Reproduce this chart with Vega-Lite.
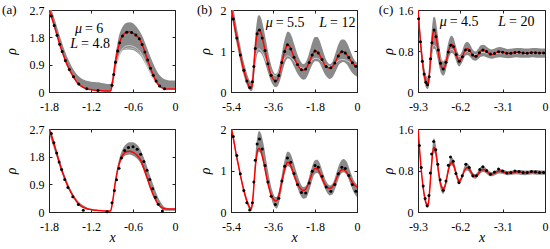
{
"$schema": "https://vega.github.io/schema/vega-lite/v6.json",
"padding": {"left": 1, "top": 3, "right": 0, "bottom": 0},
"config": {
 "view": {"stroke": "#222", "strokeWidth": 1},
 "font": "Liberation Serif",
 "axis": {"domain": false, "grid": false, "ticks": true, "tickSize": -3, "tickColor": "#222", "tickWidth": 1, "labelFont": "Liberation Serif", "labelFontSize": 12, "labelColor": "#000", "labelPadding": 8, "titleFont": "Liberation Serif", "titleFontSize": 14, "titleFontStyle": "italic", "titleFontWeight": "normal", "titleColor": "#000", "labelFlush": false, "labelOverlap": false, "zindex": 1},
 "axisX": {"labelPadding": 12},
 "text": {"font": "Liberation Serif", "color": "#000"}
},
"datasets": {
 "A": [
  {"x":-1.80,"r":2.72,"h1":2.90,"l1":2.60,"h2":2.80,"l2":2.55},
  {"x":-1.76,"r":2.45,"h1":2.68,"l1":2.36,"h2":2.55,"l2":2.28},
  {"x":-1.72,"r":2.15,"h1":2.40,"l1":2.06,"h2":2.26,"l2":2.00},
  {"x":-1.68,"r":1.83,"h1":2.10,"l1":1.75,"h2":1.94,"l2":1.70},
  {"x":-1.64,"r":1.52,"h1":1.80,"l1":1.45,"h2":1.63,"l2":1.41},
  {"x":-1.60,"r":1.25,"h1":1.52,"l1":1.19,"h2":1.35,"l2":1.16},
  {"x":-1.56,"r":1.00,"h1":1.27,"l1":0.95,"h2":1.10,"l2":0.93},
  {"x":-1.52,"r":0.79,"h1":1.05,"l1":0.75,"h2":0.88,"l2":0.73},
  {"x":-1.48,"r":0.61,"h1":0.86,"l1":0.57,"h2":0.69,"l2":0.56},
  {"x":-1.44,"r":0.46,"h1":0.70,"l1":0.43,"h2":0.53,"l2":0.42},
  {"x":-1.40,"r":0.32,"h1":0.58,"l1":0.30,"h2":0.40,"l2":0.29},
  {"x":-1.35,"r":0.21,"h1":0.47,"l1":0.19,"h2":0.28,"l2":0.19},
  {"x":-1.30,"r":0.14,"h1":0.40,"l1":0.12,"h2":0.20,"l2":0.12},
  {"x":-1.25,"r":0.10,"h1":0.36,"l1":0.08,"h2":0.14,"l2":0.08},
  {"x":-1.20,"r":0.08,"h1":0.34,"l1":0.06,"h2":0.10,"l2":0.06},
  {"x":-1.15,"r":0.06,"h1":0.33,"l1":0.04,"h2":0.08,"l2":0.045},
  {"x":-1.10,"r":0.05,"h1":0.32,"l1":0.03,"h2":0.06,"l2":0.035},
  {"x":-1.05,"r":0.04,"h1":0.30,"l1":0.025,"h2":0.05,"l2":0.03},
  {"x":-1.00,"r":0.035,"h1":0.28,"l1":0.02,"h2":0.045,"l2":0.025},
  {"x":-0.95,"r":0.03,"h1":0.26,"l1":0.02,"h2":0.04,"l2":0.02},
  {"x":-0.92,"r":0.035,"h1":0.26,"l1":0.02,"t1":0.03,"t2":0.03,"h2":0.05,"l2":0.02},
  {"x":-0.90,"r":0.22,"h1":0.40,"l1":0.12,"t1":0.17,"t2":0.16,"h2":0.30,"l2":0.18},
  {"x":-0.88,"r":0.50,"h1":0.72,"l1":0.35,"t1":0.40,"t2":0.38,"h2":0.60,"l2":0.44},
  {"x":-0.86,"r":0.85,"h1":1.08,"l1":0.62,"t1":0.66,"t2":0.63,"h2":0.95,"l2":0.78},
  {"x":-0.83,"r":1.25,"h1":1.50,"l1":0.95,"t1":0.96,"t2":0.91,"h2":1.38,"l2":1.16},
  {"x":-0.80,"r":1.55,"h1":1.85,"l1":1.18,"t1":1.20,"t2":1.14,"h2":1.70,"l2":1.45},
  {"x":-0.77,"r":1.76,"h1":2.05,"l1":1.32,"t1":1.36,"t2":1.29,"h2":1.93,"l2":1.65},
  {"x":-0.74,"r":1.88,"h1":2.18,"l1":1.38,"t1":1.45,"t2":1.38,"h2":2.08,"l2":1.77},
  {"x":-0.70,"r":1.96,"h1":2.27,"l1":1.40,"t1":1.51,"t2":1.43,"h2":2.20,"l2":1.85},
  {"x":-0.65,"r":1.98,"h1":2.30,"l1":1.40,"t1":1.53,"t2":1.45,"h2":2.27,"l2":1.87},
  {"x":-0.60,"r":1.94,"h1":2.26,"l1":1.38,"t1":1.50,"t2":1.43,"h2":2.27,"l2":1.83},
  {"x":-0.55,"r":1.86,"h1":2.15,"l1":1.32,"t1":1.44,"t2":1.37,"h2":2.20,"l2":1.75},
  {"x":-0.50,"r":1.72,"h1":1.98,"l1":1.22,"t1":1.33,"t2":1.26,"h2":2.06,"l2":1.62},
  {"x":-0.45,"r":1.45,"h1":1.75,"l1":1.04,"t1":1.13,"t2":1.07,"h2":1.80,"l2":1.37},
  {"x":-0.40,"r":1.12,"h1":1.45,"l1":0.82,"t1":0.88,"t2":0.84,"h2":1.48,"l2":1.06},
  {"x":-0.35,"r":0.78,"h1":1.15,"l1":0.60,"t1":0.62,"t2":0.59,"h2":1.14,"l2":0.74},
  {"x":-0.30,"r":0.50,"h1":0.88,"l1":0.40,"t1":0.40,"t2":0.38,"h2":0.82,"l2":0.47},
  {"x":-0.25,"r":0.28,"h1":0.65,"l1":0.25,"t1":0.24,"t2":0.23,"h2":0.52,"l2":0.26},
  {"x":-0.20,"r":0.16,"h1":0.50,"l1":0.14,"t1":0.14,"t2":0.13,"h2":0.30,"l2":0.12},
  {"x":-0.15,"r":0.11,"h1":0.42,"l1":0.09,"t1":0.10,"t2":0.095,"h2":0.16,"l2":0.05},
  {"x":-0.10,"r":0.10,"h1":0.39,"l1":0.08,"t1":0.09,"t2":0.085,"h2":0.12,"l2":0.04},
  {"x":-0.05,"r":0.10,"h1":0.38,"l1":0.08,"t1":0.09,"t2":0.085,"h2":0.11,"l2":0.04},
  {"x":0.00,"r":0.10,"h1":0.38,"l1":0.08,"t1":0.09,"t2":0.085,"h2":0.11,"l2":0.04}
 ],
 "Ad1": [
  {"x":-1.767,"y":2.50},{"x":-1.725,"y":2.19},{"x":-1.685,"y":1.87},{"x":-1.647,"y":1.57},{"x":-1.612,"y":1.33},{"x":-1.566,"y":1.04},{"x":-1.51,"y":0.74},{"x":-1.45,"y":0.50},{"x":-1.375,"y":0.26},{"x":-1.26,"y":0.11},{"x":-1.10,"y":0.05},{"x":-0.90,"y":0.22},{"x":-0.875,"y":0.58},{"x":-0.85,"y":0.98},{"x":-0.82,"y":1.35},{"x":-0.79,"y":1.62},{"x":-0.75,"y":1.84},{"x":-0.69,"y":1.97},{"x":-0.62,"y":1.96},{"x":-0.56,"y":1.88},{"x":-0.51,"y":1.75},{"x":-0.47,"y":1.56},{"x":-0.43,"y":1.32},{"x":-0.39,"y":1.05},{"x":-0.35,"y":0.78},{"x":-0.31,"y":0.55},{"x":-0.27,"y":0.36},{"x":-0.22,"y":0.20},{"x":-0.15,"y":0.11}
 ],
 "Ad2": [
  {"x":-1.767,"y":2.55},{"x":-1.73,"y":2.25},{"x":-1.69,"y":1.92},{"x":-1.655,"y":1.63},{"x":-1.62,"y":1.38},{"x":-1.575,"y":1.06},{"x":-1.53,"y":0.80},{"x":-1.46,"y":0.50},{"x":-1.38,"y":0.24},{"x":-1.31,"y":0.06},{"x":-0.97,"y":0.01},{"x":-0.90,"y":0.30},{"x":-0.865,"y":0.70},{"x":-0.835,"y":1.05},{"x":-0.80,"y":1.42},{"x":-0.765,"y":1.76},{"x":-0.72,"y":2.00},{"x":-0.665,"y":2.10},{"x":-0.60,"y":2.12},{"x":-0.54,"y":2.04},{"x":-0.49,"y":1.88},{"x":-0.445,"y":1.64},{"x":-0.40,"y":1.36},{"x":-0.36,"y":1.06},{"x":-0.32,"y":0.76},{"x":-0.28,"y":0.48},{"x":-0.24,"y":0.25},{"x":-0.18,"y":0.03}
 ],
 "B": [
  {"x":-5.40,"r":2.05,"h1":2.30,"l1":1.90,"r2":2.05,"h2":2.15,"l2":1.98},
  {"x":-5.30,"r":1.78,"h1":2.05,"l1":1.62,"r2":1.78,"h2":1.85,"l2":1.70},
  {"x":-5.20,"r":1.46,"h1":1.72,"l1":1.30,"r2":1.46,"h2":1.52,"l2":1.38},
  {"x":-5.10,"r":1.18,"h1":1.42,"l1":1.02,"r2":1.18,"h2":1.22,"l2":1.10},
  {"x":-5.00,"r":0.90,"h1":1.12,"l1":0.75,"r2":0.90,"h2":0.94,"l2":0.82},
  {"x":-4.90,"r":0.64,"h1":0.85,"l1":0.50,"r2":0.64,"h2":0.68,"l2":0.56},
  {"x":-4.80,"r":0.42,"h1":0.62,"l1":0.30,"r2":0.42,"h2":0.45,"l2":0.34},
  {"x":-4.70,"r":0.24,"h1":0.42,"l1":0.14,"r2":0.24,"h2":0.26,"l2":0.16},
  {"x":-4.60,"r":0.11,"h1":0.28,"l1":0.04,"r2":0.11,"h2":0.12,"l2":0.04},
  {"x":-4.55,"r":0.08,"h1":0.25,"l1":0.02,"r2":0.08,"h2":0.10,"l2":0.02},
  {"x":-4.50,"r":0.15,"h1":0.35,"l1":0.03,"t1":0.25,"r2":0.15,"h2":0.20,"l2":0.05},
  {"x":-4.45,"r":0.40,"h1":0.65,"l1":0.15,"t1":0.45,"r2":0.40,"h2":0.52,"l2":0.30},
  {"x":-4.40,"r":0.78,"h1":1.05,"l1":0.45,"t1":0.70,"r2":0.78,"h2":0.98,"l2":0.70},
  {"x":-4.35,"r":1.12,"h1":1.42,"l1":0.70,"t1":0.88,"r2":1.12,"h2":1.40,"l2":1.03},
  {"x":-4.30,"r":1.36,"h1":1.68,"l1":0.86,"t1":0.98,"r2":1.37,"h2":1.70,"l2":1.27},
  {"x":-4.25,"r":1.49,"h1":1.84,"l1":0.95,"t1":1.04,"r2":1.50,"h2":1.88,"l2":1.40},
  {"x":-4.20,"r":1.52,"h1":1.88,"l1":0.98,"t1":1.05,"r2":1.53,"h2":1.95,"l2":1.45},
  {"x":-4.12,"r":1.45,"h1":1.82,"l1":0.95,"t1":1.02,"r2":1.47,"h2":1.90,"l2":1.40},
  {"x":-4.00,"r":1.18,"h1":1.55,"l1":0.82,"t1":0.90,"r2":1.20,"h2":1.62,"l2":1.14},
  {"x":-3.90,"r":0.90,"h1":1.25,"l1":0.64,"t1":0.76,"r2":0.91,"h2":1.28,"l2":0.86},
  {"x":-3.80,"r":0.64,"h1":0.95,"l1":0.45,"t1":0.62,"r2":0.64,"h2":0.95,"l2":0.60},
  {"x":-3.70,"r":0.44,"h1":0.70,"l1":0.28,"t1":0.50,"r2":0.44,"h2":0.66,"l2":0.38},
  {"x":-3.60,"r":0.32,"h1":0.52,"l1":0.17,"t1":0.43,"r2":0.32,"h2":0.46,"l2":0.20},
  {"x":-3.50,"r":0.27,"h1":0.44,"l1":0.12,"t1":0.40,"r2":0.27,"h2":0.36,"l2":0.10},
  {"x":-3.45,"r":0.27,"h1":0.45,"l1":0.12,"t1":0.41,"r2":0.27,"h2":0.36,"l2":0.08},
  {"x":-3.35,"r":0.40,"h1":0.58,"l1":0.20,"t1":0.50,"r2":0.40,"h2":0.50,"l2":0.20},
  {"x":-3.25,"r":0.64,"h1":0.85,"l1":0.38,"t1":0.64,"r2":0.65,"h2":0.80,"l2":0.48},
  {"x":-3.15,"r":0.89,"h1":1.16,"l1":0.60,"t1":0.78,"r2":0.92,"h2":1.12,"l2":0.78},
  {"x":-3.05,"r":1.08,"h1":1.38,"l1":0.76,"t1":0.86,"r2":1.12,"h2":1.36,"l2":1.02},
  {"x":-2.98,"r":1.15,"h1":1.47,"l1":0.82,"t1":0.88,"r2":1.20,"h2":1.45,"l2":1.10},
  {"x":-2.90,"r":1.12,"h1":1.46,"l1":0.81,"t1":0.87,"r2":1.18,"h2":1.44,"l2":1.09},
  {"x":-2.80,"r":1.00,"h1":1.36,"l1":0.74,"t1":0.82,"r2":1.06,"h2":1.34,"l2":0.98},
  {"x":-2.70,"r":0.85,"h1":1.18,"l1":0.62,"t1":0.75,"r2":0.89,"h2":1.16,"l2":0.82},
  {"x":-2.60,"r":0.72,"h1":1.00,"l1":0.50,"t1":0.68,"r2":0.74,"h2":0.97,"l2":0.66},
  {"x":-2.50,"r":0.62,"h1":0.84,"l1":0.40,"t1":0.63,"r2":0.63,"h2":0.80,"l2":0.50},
  {"x":-2.40,"r":0.55,"h1":0.73,"l1":0.33,"t1":0.59,"r2":0.55,"h2":0.66,"l2":0.38},
  {"x":-2.30,"r":0.53,"h1":0.68,"l1":0.30,"t1":0.58,"r2":0.52,"h2":0.60,"l2":0.32},
  {"x":-2.20,"r":0.56,"h1":0.72,"l1":0.32,"t1":0.60,"r2":0.55,"h2":0.62,"l2":0.33},
  {"x":-2.10,"r":0.66,"h1":0.86,"l1":0.42,"t1":0.66,"r2":0.66,"h2":0.75,"l2":0.43},
  {"x":-2.00,"r":0.79,"h1":1.05,"l1":0.56,"t1":0.73,"r2":0.81,"h2":0.95,"l2":0.60},
  {"x":-1.90,"r":0.92,"h1":1.24,"l1":0.68,"t1":0.79,"r2":0.97,"h2":1.14,"l2":0.80},
  {"x":-1.80,"r":1.00,"h1":1.34,"l1":0.75,"t1":0.82,"r2":1.05,"h2":1.25,"l2":0.92},
  {"x":-1.70,"r":0.98,"h1":1.34,"l1":0.75,"t1":0.82,"r2":1.04,"h2":1.26,"l2":0.94},
  {"x":-1.60,"r":0.90,"h1":1.25,"l1":0.70,"t1":0.79,"r2":0.95,"h2":1.18,"l2":0.87},
  {"x":-1.50,"r":0.79,"h1":1.08,"l1":0.58,"t1":0.74,"r2":0.82,"h2":1.02,"l2":0.74},
  {"x":-1.40,"r":0.68,"h1":0.90,"l1":0.46,"t1":0.69,"r2":0.69,"h2":0.85,"l2":0.60},
  {"x":-1.30,"r":0.61,"h1":0.76,"l1":0.37,"t1":0.65,"r2":0.61,"h2":0.72,"l2":0.48},
  {"x":-1.17,"r":0.58,"h1":0.68,"l1":0.32,"t1":0.62,"r2":0.57,"h2":0.64,"l2":0.40},
  {"x":-1.05,"r":0.62,"h1":0.74,"l1":0.36,"t1":0.64,"r2":0.61,"h2":0.68,"l2":0.42},
  {"x":-0.95,"r":0.71,"h1":0.90,"l1":0.46,"t1":0.69,"r2":0.71,"h2":0.82,"l2":0.54},
  {"x":-0.85,"r":0.83,"h1":1.08,"l1":0.58,"t1":0.74,"r2":0.85,"h2":1.00,"l2":0.70},
  {"x":-0.75,"r":0.93,"h1":1.22,"l1":0.68,"t1":0.78,"r2":0.96,"h2":1.16,"l2":0.85},
  {"x":-0.65,"r":0.98,"h1":1.28,"l1":0.72,"t1":0.79,"r2":1.02,"h2":1.26,"l2":0.94},
  {"x":-0.57,"r":0.98,"h1":1.28,"l1":0.73,"t1":0.79,"r2":1.02,"h2":1.28,"l2":0.96},
  {"x":-0.45,"r":0.92,"h1":1.22,"l1":0.68,"t1":0.77,"r2":0.96,"h2":1.22,"l2":0.90},
  {"x":-0.35,"r":0.84,"h1":1.10,"l1":0.60,"t1":0.74,"r2":0.86,"h2":1.08,"l2":0.78},
  {"x":-0.25,"r":0.75,"h1":0.95,"l1":0.50,"t1":0.70,"r2":0.76,"h2":0.92,"l2":0.62},
  {"x":-0.15,"r":0.68,"h1":0.82,"l1":0.43,"t1":0.67,"r2":0.67,"h2":0.78,"l2":0.48},
  {"x":-0.05,"r":0.63,"h1":0.74,"l1":0.39,"t1":0.65,"r2":0.62,"h2":0.69,"l2":0.39},
  {"x":0.00,"r":0.62,"h1":0.72,"l1":0.38,"t1":0.64,"r2":0.60,"h2":0.66,"l2":0.36}
 ],
 "Bd1": [
  {"x":-5.30,"y":1.78},{"x":-5.15,"y":1.32},{"x":-5.00,"y":0.90},{"x":-4.85,"y":0.53},{"x":-4.72,"y":0.27},{"x":-4.60,"y":0.11},{"x":-4.48,"y":0.25},{"x":-4.42,"y":0.62},{"x":-4.36,"y":1.06},{"x":-4.28,"y":1.42},{"x":-4.18,"y":1.51},{"x":-4.06,"y":1.32},{"x":-3.94,"y":1.01},{"x":-3.82,"y":0.69},{"x":-3.68,"y":0.41},{"x":-3.50,"y":0.27},{"x":-3.35,"y":0.40},{"x":-3.22,"y":0.72},{"x":-3.10,"y":0.99},{"x":-2.98,"y":1.15},{"x":-2.84,"y":1.05},{"x":-2.70,"y":0.85},{"x":-2.55,"y":0.67},{"x":-2.38,"y":0.545},{"x":-2.20,"y":0.56},{"x":-2.05,"y":0.72},{"x":-1.92,"y":0.90},{"x":-1.80,"y":1.00},{"x":-1.66,"y":0.95},{"x":-1.50,"y":0.79},{"x":-1.32,"y":0.62},{"x":-1.12,"y":0.59},{"x":-0.95,"y":0.71},{"x":-0.80,"y":0.88},{"x":-0.65,"y":0.98},{"x":-0.50,"y":0.95},{"x":-0.35,"y":0.84},{"x":-0.20,"y":0.715},{"x":-0.05,"y":0.63}
 ],
 "Bd2": [
  {"x":-5.30,"y":1.82},{"x":-5.15,"y":1.36},{"x":-5.00,"y":0.92},{"x":-4.85,"y":0.52},{"x":-4.72,"y":0.22},{"x":-4.60,"y":0.05},{"x":-4.48,"y":0.22},{"x":-4.42,"y":0.72},{"x":-4.36,"y":1.25},{"x":-4.28,"y":1.64},{"x":-4.18,"y":1.76},{"x":-4.06,"y":1.52},{"x":-3.94,"y":1.12},{"x":-3.82,"y":0.72},{"x":-3.68,"y":0.38},{"x":-3.50,"y":0.18},{"x":-3.35,"y":0.33},{"x":-3.22,"y":0.75},{"x":-3.10,"y":1.10},{"x":-2.98,"y":1.30},{"x":-2.84,"y":1.20},{"x":-2.70,"y":0.93},{"x":-2.55,"y":0.66},{"x":-2.38,"y":0.47},{"x":-2.20,"y":0.46},{"x":-2.05,"y":0.70},{"x":-1.92,"y":0.98},{"x":-1.80,"y":1.12},{"x":-1.66,"y":1.08},{"x":-1.50,"y":0.86},{"x":-1.32,"y":0.60},{"x":-1.12,"y":0.50},{"x":-0.95,"y":0.66},{"x":-0.80,"y":0.92},{"x":-0.65,"y":1.08},{"x":-0.50,"y":1.05},{"x":-0.35,"y":0.88},{"x":-0.20,"y":0.66},{"x":-0.05,"y":0.50}
 ],
 "C": [
  {"x":-9.30,"r":1.62,"h1":1.75,"l1":1.50,"r2":1.62,"h2":1.72,"l2":1.55},
  {"x":-9.20,"r":1.25,"h1":1.40,"l1":1.12,"r2":1.25,"h2":1.33,"l2":1.20},
  {"x":-9.10,"r":0.92,"h1":1.08,"l1":0.80,"r2":0.92,"h2":0.99,"l2":0.87},
  {"x":-9.00,"r":0.65,"h1":0.80,"l1":0.52,"r2":0.65,"h2":0.70,"l2":0.59},
  {"x":-8.90,"r":0.43,"h1":0.58,"l1":0.30,"r2":0.43,"h2":0.47,"l2":0.36},
  {"x":-8.80,"r":0.27,"h1":0.42,"l1":0.16,"r2":0.27,"h2":0.30,"l2":0.20},
  {"x":-8.70,"r":0.17,"h1":0.32,"l1":0.08,"r2":0.17,"h2":0.20,"l2":0.11},
  {"x":-8.60,"r":0.14,"h1":0.28,"l1":0.06,"t1":0.30,"r2":0.14,"h2":0.17,"l2":0.08},
  {"x":-8.55,"r":0.15,"h1":0.30,"l1":0.07,"t1":0.32,"r2":0.15,"h2":0.19,"l2":0.09},
  {"x":-8.45,"r":0.40,"h1":0.62,"l1":0.25,"t1":0.50,"r2":0.40,"h2":0.48,"l2":0.33},
  {"x":-8.35,"r":0.75,"h1":1.00,"l1":0.52,"t1":0.70,"r2":0.76,"h2":0.88,"l2":0.68},
  {"x":-8.25,"r":1.05,"h1":1.32,"l1":0.75,"t1":0.85,"r2":1.08,"h2":1.22,"l2":0.98},
  {"x":-8.15,"r":1.21,"h1":1.47,"l1":0.85,"t1":0.91,"r2":1.25,"h2":1.42,"l2":1.15},
  {"x":-8.05,"r":1.18,"h1":1.45,"l1":0.84,"t1":0.90,"r2":1.22,"h2":1.38,"l2":1.12},
  {"x":-7.90,"r":0.95,"h1":1.22,"l1":0.70,"t1":0.82,"r2":0.98,"h2":1.10,"l2":0.88},
  {"x":-7.75,"r":0.68,"h1":0.92,"l1":0.50,"t1":0.70,"r2":0.69,"h2":0.78,"l2":0.60},
  {"x":-7.60,"r":0.50,"h1":0.68,"l1":0.36,"t1":0.63,"r2":0.50,"h2":0.56,"l2":0.40},
  {"x":-7.45,"r":0.45,"h1":0.60,"l1":0.32,"t1":0.61,"r2":0.45,"h2":0.48,"l2":0.35},
  {"x":-7.30,"r":0.52,"h1":0.66,"l1":0.38,"t1":0.64,"r2":0.52,"h2":0.58,"l2":0.45},
  {"x":-7.15,"r":0.70,"h1":0.88,"l1":0.56,"t1":0.72,"r2":0.71,"h2":0.80,"l2":0.66},
  {"x":-7.00,"r":0.86,"h1":1.04,"l1":0.70,"t1":0.80,"r2":0.88,"h2":0.98,"l2":0.84},
  {"x":-6.85,"r":0.93,"h1":1.10,"l1":0.76,"t1":0.83,"r2":0.95,"h2":1.06,"l2":0.90},
  {"x":-6.70,"r":0.89,"h1":1.06,"l1":0.74,"t1":0.81,"r2":0.91,"h2":1.01,"l2":0.86},
  {"x":-6.55,"r":0.77,"h1":0.92,"l1":0.64,"t1":0.76,"r2":0.78,"h2":0.86,"l2":0.72},
  {"x":-6.40,"r":0.65,"h1":0.78,"l1":0.53,"t1":0.71,"r2":0.65,"h2":0.70,"l2":0.58},
  {"x":-6.28,"r":0.60,"h1":0.72,"l1":0.50,"t1":0.69,"r2":0.60,"h2":0.63,"l2":0.53},
  {"x":-6.10,"r":0.66,"h1":0.78,"l1":0.56,"t1":0.71,"r2":0.66,"h2":0.71,"l2":0.61},
  {"x":-5.90,"r":0.79,"h1":0.93,"l1":0.68,"t1":0.77,"r2":0.80,"h2":0.88,"l2":0.76},
  {"x":-5.70,"r":0.85,"h1":0.98,"l1":0.72,"t1":0.79,"r2":0.86,"h2":0.94,"l2":0.80},
  {"x":-5.50,"r":0.80,"h1":0.93,"l1":0.69,"t1":0.77,"r2":0.81,"h2":0.88,"l2":0.75},
  {"x":-5.30,"r":0.72,"h1":0.83,"l1":0.63,"t1":0.74,"r2":0.72,"h2":0.76,"l2":0.66},
  {"x":-5.10,"r":0.69,"h1":0.79,"l1":0.61,"t1":0.73,"r2":0.69,"h2":0.73,"l2":0.64},
  {"x":-4.90,"r":0.73,"h1":0.84,"l1":0.64,"t1":0.74,"r2":0.73,"h2":0.79,"l2":0.69},
  {"x":-4.70,"r":0.80,"h1":0.91,"l1":0.69,"t1":0.77,"r2":0.80,"h2":0.87,"l2":0.75},
  {"x":-4.50,"r":0.82,"h1":0.92,"l1":0.70,"t1":0.77,"r2":0.82,"h2":0.88,"l2":0.77},
  {"x":-4.30,"r":0.79,"h1":0.89,"l1":0.68,"t1":0.76,"r2":0.79,"h2":0.84,"l2":0.74},
  {"x":-4.10,"r":0.75,"h1":0.85,"l1":0.66,"t1":0.75,"r2":0.75,"h2":0.79,"l2":0.70},
  {"x":-3.90,"r":0.73,"h1":0.83,"l1":0.65,"t1":0.74,"r2":0.73,"h2":0.77,"l2":0.69},
  {"x":-3.60,"r":0.765,"h1":0.86,"l1":0.67,"t1":0.75,"r2":0.765,"h2":0.80,"l2":0.72},
  {"x":-3.30,"r":0.79,"h1":0.88,"l1":0.68,"t1":0.76,"r2":0.79,"h2":0.83,"l2":0.74},
  {"x":-3.00,"r":0.77,"h1":0.86,"l1":0.67,"t1":0.75,"r2":0.77,"h2":0.81,"l2":0.73},
  {"x":-2.70,"r":0.75,"h1":0.84,"l1":0.66,"t1":0.74,"r2":0.75,"h2":0.79,"l2":0.71},
  {"x":-2.40,"r":0.76,"h1":0.85,"l1":0.67,"t1":0.75,"r2":0.76,"h2":0.80,"l2":0.72},
  {"x":-2.10,"r":0.775,"h1":0.86,"l1":0.68,"t1":0.75,"r2":0.775,"h2":0.81,"l2":0.73},
  {"x":-1.80,"r":0.77,"h1":0.86,"l1":0.67,"t1":0.75,"r2":0.77,"h2":0.81,"l2":0.72},
  {"x":-1.50,"r":0.755,"h1":0.85,"l1":0.67,"t1":0.74,"r2":0.755,"h2":0.80,"l2":0.71},
  {"x":-1.20,"r":0.76,"h1":0.85,"l1":0.67,"t1":0.74,"r2":0.76,"h2":0.80,"l2":0.72},
  {"x":-0.90,"r":0.77,"h1":0.86,"l1":0.68,"t1":0.75,"r2":0.77,"h2":0.81,"l2":0.73},
  {"x":-0.60,"r":0.765,"h1":0.86,"l1":0.67,"t1":0.75,"r2":0.765,"h2":0.81,"l2":0.72},
  {"x":-0.30,"r":0.76,"h1":0.85,"l1":0.67,"t1":0.74,"r2":0.76,"h2":0.80,"l2":0.72},
  {"x":0.00,"r":0.76,"h1":0.85,"l1":0.67,"t1":0.74,"r2":0.76,"h2":0.80,"l2":0.72}
 ],
 "Cd1": [
  {"x":-9.25,"y":1.43},{"x":-9.12,"y":0.98},{"x":-8.98,"y":0.60},{"x":-8.85,"y":0.35},{"x":-8.72,"y":0.19},{"x":-8.60,"y":0.14},{"x":-8.48,"y":0.30},{"x":-8.38,"y":0.65},{"x":-8.28,"y":0.96},{"x":-8.12,"y":1.21},{"x":-7.98,"y":1.08},{"x":-7.82,"y":0.82},{"x":-7.65,"y":0.56},{"x":-7.45,"y":0.45},{"x":-7.25,"y":0.58},{"x":-7.08,"y":0.78},{"x":-6.90,"y":0.91},{"x":-6.70,"y":0.89},{"x":-6.50,"y":0.73},{"x":-6.28,"y":0.60},{"x":-6.05,"y":0.69},{"x":-5.82,"y":0.82},{"x":-5.55,"y":0.81},{"x":-5.30,"y":0.72},{"x":-5.05,"y":0.70},{"x":-4.80,"y":0.765},{"x":-4.55,"y":0.82},{"x":-4.28,"y":0.79},{"x":-4.00,"y":0.74},{"x":-3.70,"y":0.75},{"x":-3.40,"y":0.785},{"x":-3.10,"y":0.775},{"x":-2.80,"y":0.755},{"x":-2.50,"y":0.755},{"x":-2.20,"y":0.77},{"x":-1.90,"y":0.775},{"x":-1.60,"y":0.76},{"x":-1.30,"y":0.757},{"x":-1.00,"y":0.767},{"x":-0.70,"y":0.767},{"x":-0.40,"y":0.762},{"x":-0.10,"y":0.76}
 ],
 "Cd2": [
  {"x":-9.20,"y":1.28},{"x":-9.06,"y":0.86},{"x":-8.92,"y":0.50},{"x":-8.78,"y":0.26},{"x":-8.63,"y":0.12},{"x":-8.50,"y":0.32},{"x":-8.40,"y":0.75},{"x":-8.30,"y":1.12},{"x":-8.15,"y":1.36},{"x":-8.00,"y":1.20},{"x":-7.85,"y":0.92},{"x":-7.68,"y":0.62},{"x":-7.45,"y":0.42},{"x":-7.25,"y":0.60},{"x":-7.08,"y":0.90},{"x":-6.92,"y":1.06},{"x":-6.72,"y":0.98},{"x":-6.52,"y":0.74},{"x":-6.30,"y":0.57},{"x":-6.06,"y":0.70},{"x":-5.80,"y":0.92},{"x":-5.55,"y":0.86},{"x":-5.28,"y":0.70},{"x":-5.02,"y":0.70},{"x":-4.78,"y":0.82},{"x":-4.55,"y":0.87},{"x":-4.28,"y":0.80},{"x":-4.00,"y":0.73},{"x":-3.70,"y":0.77},{"x":-3.40,"y":0.83},{"x":-3.10,"y":0.79},{"x":-2.80,"y":0.75},{"x":-2.50,"y":0.76},{"x":-2.20,"y":0.79},{"x":-1.90,"y":0.78},{"x":-1.60,"y":0.76},{"x":-1.30,"y":0.76},{"x":-1.00,"y":0.78},{"x":-0.70,"y":0.77},{"x":-0.40,"y":0.76},{"x":-0.10,"y":0.76}
 ]
},
"spacing": 17,
"hconcat": [
 {"spacing": 9, "vconcat": [
  {"width": 126, "height": 82, "resolve": {"axis": {"x": "independent", "y": "independent"}},
   "layer": [
    {"data": {"name": "A"}, "mark": {"type": "area", "color": "#8a8a8a", "opacity": 1, "clip": true, "interpolate": "monotone"},
     "encoding": {"x": {"field": "x", "type": "quantitative", "scale": {"domain": [-1.8, 0], "nice": false, "zero": false}, "axis": {"values": [-1.8, -1.2, -0.6, 0], "format": ".1~f", "labelExpr": "replace(datum.label, '\u2212', '-')", "title": null}},
      "y": {"field": "l1", "type": "quantitative", "scale": {"domain": [0, 2.7], "nice": false, "zero": false}, "axis": {"values": [0, 0.9, 1.8, 2.7], "format": ".1~f", "title": "ρ", "titlePadding": 11}},
      "y2": {"field": "h1"}}},
    {"data": {"name": "A"}, "mark": {"type": "line", "color": "#e0e0e0", "strokeWidth": 0.8, "clip": true, "interpolate": "monotone"}, "encoding": {"x": {"field": "x", "type": "quantitative", "scale": {"domain": [-1.8, 0], "nice": false, "zero": false}, "axis": null}, "y": {"field": "t1", "type": "quantitative", "scale": {"domain": [0, 2.7], "nice": false, "zero": false}, "axis": null}}},
    {"data": {"name": "A"}, "mark": {"type": "line", "color": "#d0d0d0", "strokeWidth": 0.8, "clip": true, "interpolate": "monotone"}, "encoding": {"x": {"field": "x", "type": "quantitative", "scale": {"domain": [-1.8, 0], "nice": false, "zero": false}, "axis": null}, "y": {"field": "t2", "type": "quantitative", "scale": {"domain": [0, 2.7], "nice": false, "zero": false}, "axis": null}}},
    {"data": {"name": "A"}, "mark": {"type": "line", "color": "#ff0000", "strokeWidth": 1.5, "clip": true, "interpolate": "monotone"}, "encoding": {"x": {"field": "x", "type": "quantitative", "scale": {"domain": [-1.8, 0], "nice": false, "zero": false}, "axis": {"orient": "top", "labels": false, "values": [-1.8, -1.2, -0.6, 0], "title": null}}, "y": {"field": "r", "type": "quantitative", "scale": {"domain": [0, 2.7], "nice": false, "zero": false}, "axis": {"orient": "right", "labels": false, "values": [0, 0.9, 1.8, 2.7], "title": null}}}},
    {"data": {"name": "Ad1"}, "mark": {"type": "point", "filled": true, "shape": "circle", "size": 9, "color": "#000", "opacity": 1}, "encoding": {"x": {"field": "x", "type": "quantitative", "scale": {"domain": [-1.8, 0], "nice": false, "zero": false}, "axis": null}, "y": {"field": "y", "type": "quantitative", "scale": {"domain": [0, 2.7], "nice": false, "zero": false}, "axis": null}}},
    {"data": {"values": [{"x": -1.329, "y": 2.07, "a": "μ", "b": "= 6"}, {"x": -1.386, "y": 1.59, "a": "L", "b": "= 4.8"}]}, "mark": {"type": "text", "fontSize": 14, "fontStyle": "italic", "align": "right", "baseline": "middle"}, "encoding": {"x": {"field": "x", "type": "quantitative", "scale": {"domain": [-1.8, 0], "nice": false, "zero": false}, "axis": null}, "y": {"field": "y", "type": "quantitative", "scale": {"domain": [0, 2.7], "nice": false, "zero": false}, "axis": null}, "text": {"field": "a"}}},
    {"data": {"values": [{"x": -1.329, "y": 2.07, "a": "μ", "b": "= 6"}, {"x": -1.386, "y": 1.59, "a": "L", "b": "= 4.8"}]}, "mark": {"type": "text", "fontSize": 14, "align": "left", "baseline": "middle", "dx": 3}, "encoding": {"x": {"field": "x", "type": "quantitative", "scale": {"domain": [-1.8, 0], "nice": false, "zero": false}, "axis": null}, "y": {"field": "y", "type": "quantitative", "scale": {"domain": [0, 2.7], "nice": false, "zero": false}, "axis": null}, "text": {"field": "b"}}},
    {"data": {"values": [{"x": -2.367, "y": 2.7, "t": "(a)"}]}, "mark": {"type": "text", "fontSize": 13, "align": "center", "baseline": "middle"}, "encoding": {"x": {"field": "x", "type": "quantitative", "scale": {"domain": [-1.8, 0], "nice": false, "zero": false}, "axis": null}, "y": {"field": "y", "type": "quantitative", "scale": {"domain": [0, 2.7], "nice": false, "zero": false}, "axis": null}, "text": {"field": "t"}}}
   ]},
  {"width": 126, "height": 83, "resolve": {"axis": {"x": "independent", "y": "independent"}},
   "layer": [
    {"data": {"name": "A"}, "mark": {"type": "area", "color": "#8a8a8a", "opacity": 1, "clip": true, "interpolate": "monotone"},
     "encoding": {"x": {"field": "x", "type": "quantitative", "scale": {"domain": [-1.8, 0], "nice": false, "zero": false}, "axis": {"values": [-1.8, -1.2, -0.6, 0], "format": ".1~f", "labelExpr": "replace(datum.label, '\u2212', '-')", "title": "x", "titlePadding": -2}},
      "y": {"field": "l2", "type": "quantitative", "scale": {"domain": [0, 2.7], "nice": false, "zero": false}, "axis": {"values": [0, 0.9, 1.8, 2.7], "format": ".1~f", "title": "ρ", "titlePadding": 11}},
      "y2": {"field": "h2"}}},
    {"data": {"name": "A"}, "mark": {"type": "line", "color": "#ff0000", "strokeWidth": 1.5, "clip": true, "interpolate": "monotone"}, "encoding": {"x": {"field": "x", "type": "quantitative", "scale": {"domain": [-1.8, 0], "nice": false, "zero": false}, "axis": {"orient": "top", "labels": false, "values": [-1.8, -1.2, -0.6, 0], "title": null}}, "y": {"field": "r", "type": "quantitative", "scale": {"domain": [0, 2.7], "nice": false, "zero": false}, "axis": {"orient": "right", "labels": false, "values": [0, 0.9, 1.8, 2.7], "title": null}}}},
    {"data": {"name": "Ad2"}, "mark": {"type": "point", "filled": true, "shape": "circle", "size": 9, "color": "#000", "opacity": 1}, "encoding": {"x": {"field": "x", "type": "quantitative", "scale": {"domain": [-1.8, 0], "nice": false, "zero": false}, "axis": null}, "y": {"field": "y", "type": "quantitative", "scale": {"domain": [0, 2.7], "nice": false, "zero": false}, "axis": null}}}
   ]}
 ]},
 {"spacing": 9, "vconcat": [
  {"width": 126, "height": 82, "resolve": {"axis": {"x": "independent", "y": "independent"}},
   "layer": [
    {"data": {"name": "B"}, "mark": {"type": "area", "color": "#8a8a8a", "opacity": 1, "clip": true, "interpolate": "monotone"},
     "encoding": {"x": {"field": "x", "type": "quantitative", "scale": {"domain": [-5.4, 0], "nice": false, "zero": false}, "axis": {"values": [-5.4, -3.6, -1.8, 0], "format": ".1~f", "labelExpr": "replace(datum.label, '\u2212', '-')", "title": null}},
      "y": {"field": "l1", "type": "quantitative", "scale": {"domain": [0, 2], "nice": false, "zero": false}, "axis": {"values": [0, 1, 2], "format": ".1~f", "title": "ρ", "titlePadding": 8}},
      "y2": {"field": "h1"}}},
    {"data": {"name": "B"}, "mark": {"type": "line", "color": "#d8d8d8", "strokeWidth": 0.9, "clip": true, "interpolate": "monotone"}, "encoding": {"x": {"field": "x", "type": "quantitative", "scale": {"domain": [-5.4, 0], "nice": false, "zero": false}, "axis": null}, "y": {"field": "t1", "type": "quantitative", "scale": {"domain": [0, 2], "nice": false, "zero": false}, "axis": null}}},
    {"data": {"name": "B"}, "mark": {"type": "line", "color": "#ff0000", "strokeWidth": 1.5, "clip": true, "interpolate": "monotone"}, "encoding": {"x": {"field": "x", "type": "quantitative", "scale": {"domain": [-5.4, 0], "nice": false, "zero": false}, "axis": {"orient": "top", "labels": false, "values": [-5.4, -3.6, -1.8, 0], "title": null}}, "y": {"field": "r", "type": "quantitative", "scale": {"domain": [0, 2], "nice": false, "zero": false}, "axis": {"orient": "right", "labels": false, "values": [0, 1, 2], "title": null}}}},
    {"data": {"name": "Bd1"}, "mark": {"type": "point", "filled": true, "shape": "circle", "size": 9, "color": "#000", "opacity": 1}, "encoding": {"x": {"field": "x", "type": "quantitative", "scale": {"domain": [-5.4, 0], "nice": false, "zero": false}, "axis": null}, "y": {"field": "y", "type": "quantitative", "scale": {"domain": [0, 2], "nice": false, "zero": false}, "axis": null}}},
    {"data": {"values": [{"x": -3.613, "y": 1.68, "a": "μ", "b": "= 5.5"}, {"x": -1.286, "y": 1.68, "a": "L", "b": "= 12"}]}, "mark": {"type": "text", "fontSize": 14, "fontStyle": "italic", "align": "right", "baseline": "middle"}, "encoding": {"x": {"field": "x", "type": "quantitative", "scale": {"domain": [-5.4, 0], "nice": false, "zero": false}, "axis": null}, "y": {"field": "y", "type": "quantitative", "scale": {"domain": [0, 2], "nice": false, "zero": false}, "axis": null}, "text": {"field": "a"}}},
    {"data": {"values": [{"x": -3.613, "y": 1.68, "a": "μ", "b": "= 5.5"}, {"x": -1.286, "y": 1.68, "a": "L", "b": "= 12"}]}, "mark": {"type": "text", "fontSize": 14, "align": "left", "baseline": "middle", "dx": 3}, "encoding": {"x": {"field": "x", "type": "quantitative", "scale": {"domain": [-5.4, 0], "nice": false, "zero": false}, "axis": null}, "y": {"field": "y", "type": "quantitative", "scale": {"domain": [0, 2], "nice": false, "zero": false}, "axis": null}, "text": {"field": "b"}}},
    {"data": {"values": [{"x": -6.536, "y": 2, "t": "(b)"}]}, "mark": {"type": "text", "fontSize": 13, "align": "center", "baseline": "middle"}, "encoding": {"x": {"field": "x", "type": "quantitative", "scale": {"domain": [-5.4, 0], "nice": false, "zero": false}, "axis": null}, "y": {"field": "y", "type": "quantitative", "scale": {"domain": [0, 2], "nice": false, "zero": false}, "axis": null}, "text": {"field": "t"}}}
   ]},
  {"width": 126, "height": 83, "resolve": {"axis": {"x": "independent", "y": "independent"}},
   "layer": [
    {"data": {"name": "B"}, "mark": {"type": "area", "color": "#8a8a8a", "opacity": 1, "clip": true, "interpolate": "monotone"},
     "encoding": {"x": {"field": "x", "type": "quantitative", "scale": {"domain": [-5.4, 0], "nice": false, "zero": false}, "axis": {"values": [-5.4, -3.6, -1.8, 0], "format": ".1~f", "labelExpr": "replace(datum.label, '\u2212', '-')", "title": "x", "titlePadding": -2}},
      "y": {"field": "l2", "type": "quantitative", "scale": {"domain": [0, 2], "nice": false, "zero": false}, "axis": {"values": [0, 1, 2], "format": ".1~f", "title": "ρ", "titlePadding": 8}},
      "y2": {"field": "h2"}}},
    {"data": {"name": "B"}, "mark": {"type": "line", "color": "#ff0000", "strokeWidth": 1.5, "clip": true, "interpolate": "monotone"}, "encoding": {"x": {"field": "x", "type": "quantitative", "scale": {"domain": [-5.4, 0], "nice": false, "zero": false}, "axis": {"orient": "top", "labels": false, "values": [-5.4, -3.6, -1.8, 0], "title": null}}, "y": {"field": "r2", "type": "quantitative", "scale": {"domain": [0, 2], "nice": false, "zero": false}, "axis": {"orient": "right", "labels": false, "values": [0, 1, 2], "title": null}}}},
    {"data": {"name": "Bd2"}, "mark": {"type": "point", "filled": true, "shape": "circle", "size": 9, "color": "#000", "opacity": 1}, "encoding": {"x": {"field": "x", "type": "quantitative", "scale": {"domain": [-5.4, 0], "nice": false, "zero": false}, "axis": null}, "y": {"field": "y", "type": "quantitative", "scale": {"domain": [0, 2], "nice": false, "zero": false}, "axis": null}}}
   ]}
 ]},
 {"spacing": 9, "vconcat": [
  {"width": 127, "height": 82, "resolve": {"axis": {"x": "independent", "y": "independent"}},
   "layer": [
    {"data": {"name": "C"}, "mark": {"type": "area", "color": "#8a8a8a", "opacity": 1, "clip": true, "interpolate": "monotone"},
     "encoding": {"x": {"field": "x", "type": "quantitative", "scale": {"domain": [-9.3, 0], "nice": false, "zero": false}, "axis": {"values": [-9.3, -6.2, -3.1, 0], "format": ".1~f", "labelExpr": "replace(datum.label, '\u2212', '-')", "title": null}},
      "y": {"field": "l1", "type": "quantitative", "scale": {"domain": [0, 1.6], "nice": false, "zero": false}, "axis": {"values": [0, 0.8, 1.6], "format": ".1~f", "title": "ρ", "titlePadding": 3}},
      "y2": {"field": "h1"}}},
    {"data": {"name": "C"}, "mark": {"type": "line", "color": "#d8d8d8", "strokeWidth": 0.9, "clip": true, "interpolate": "monotone"}, "encoding": {"x": {"field": "x", "type": "quantitative", "scale": {"domain": [-9.3, 0], "nice": false, "zero": false}, "axis": null}, "y": {"field": "t1", "type": "quantitative", "scale": {"domain": [0, 1.6], "nice": false, "zero": false}, "axis": null}}},
    {"data": {"name": "C"}, "mark": {"type": "line", "color": "#ff0000", "strokeWidth": 1.5, "clip": true, "interpolate": "monotone"}, "encoding": {"x": {"field": "x", "type": "quantitative", "scale": {"domain": [-9.3, 0], "nice": false, "zero": false}, "axis": {"orient": "top", "labels": false, "values": [-9.3, -6.2, -3.1, 0], "title": null}}, "y": {"field": "r", "type": "quantitative", "scale": {"domain": [0, 1.6], "nice": false, "zero": false}, "axis": {"orient": "right", "labels": false, "values": [0, 0.8, 1.6], "title": null}}}},
    {"data": {"name": "Cd1"}, "mark": {"type": "point", "filled": true, "shape": "circle", "size": 9, "color": "#000", "opacity": 1}, "encoding": {"x": {"field": "x", "type": "quantitative", "scale": {"domain": [-9.3, 0], "nice": false, "zero": false}, "axis": null}, "y": {"field": "y", "type": "quantitative", "scale": {"domain": [0, 1.6], "nice": false, "zero": false}, "axis": null}}},
    {"data": {"values": [{"x": -7.198, "y": 1.37, "a": "μ", "b": "= 4.5"}, {"x": -2.856, "y": 1.37, "a": "L", "b": "= 20"}]}, "mark": {"type": "text", "fontSize": 14, "fontStyle": "italic", "align": "right", "baseline": "middle"}, "encoding": {"x": {"field": "x", "type": "quantitative", "scale": {"domain": [-9.3, 0], "nice": false, "zero": false}, "axis": null}, "y": {"field": "y", "type": "quantitative", "scale": {"domain": [0, 1.6], "nice": false, "zero": false}, "axis": null}, "text": {"field": "a"}}},
    {"data": {"values": [{"x": -7.198, "y": 1.37, "a": "μ", "b": "= 4.5"}, {"x": -2.856, "y": 1.37, "a": "L", "b": "= 20"}]}, "mark": {"type": "text", "fontSize": 14, "align": "left", "baseline": "middle", "dx": 3}, "encoding": {"x": {"field": "x", "type": "quantitative", "scale": {"domain": [-9.3, 0], "nice": false, "zero": false}, "axis": null}, "y": {"field": "y", "type": "quantitative", "scale": {"domain": [0, 1.6], "nice": false, "zero": false}, "axis": null}, "text": {"field": "b"}}},
    {"data": {"values": [{"x": -11.643, "y": 1.6, "t": "(c)"}]}, "mark": {"type": "text", "fontSize": 13, "align": "center", "baseline": "middle"}, "encoding": {"x": {"field": "x", "type": "quantitative", "scale": {"domain": [-9.3, 0], "nice": false, "zero": false}, "axis": null}, "y": {"field": "y", "type": "quantitative", "scale": {"domain": [0, 1.6], "nice": false, "zero": false}, "axis": null}, "text": {"field": "t"}}}
   ]},
  {"width": 127, "height": 83, "resolve": {"axis": {"x": "independent", "y": "independent"}},
   "layer": [
    {"data": {"name": "C"}, "mark": {"type": "area", "color": "#8a8a8a", "opacity": 1, "clip": true, "interpolate": "monotone"},
     "encoding": {"x": {"field": "x", "type": "quantitative", "scale": {"domain": [-9.3, 0], "nice": false, "zero": false}, "axis": {"values": [-9.3, -6.2, -3.1, 0], "format": ".1~f", "labelExpr": "replace(datum.label, '\u2212', '-')", "title": "x", "titlePadding": -2}},
      "y": {"field": "l2", "type": "quantitative", "scale": {"domain": [0, 1.6], "nice": false, "zero": false}, "axis": {"values": [0, 0.8, 1.6], "format": ".1~f", "title": "ρ", "titlePadding": 3}},
      "y2": {"field": "h2"}}},
    {"data": {"name": "C"}, "mark": {"type": "line", "color": "#ff0000", "strokeWidth": 1.5, "clip": true, "interpolate": "monotone"}, "encoding": {"x": {"field": "x", "type": "quantitative", "scale": {"domain": [-9.3, 0], "nice": false, "zero": false}, "axis": {"orient": "top", "labels": false, "values": [-9.3, -6.2, -3.1, 0], "title": null}}, "y": {"field": "r2", "type": "quantitative", "scale": {"domain": [0, 1.6], "nice": false, "zero": false}, "axis": {"orient": "right", "labels": false, "values": [0, 0.8, 1.6], "title": null}}}},
    {"data": {"name": "Cd2"}, "mark": {"type": "point", "filled": true, "shape": "circle", "size": 9, "color": "#000", "opacity": 1}, "encoding": {"x": {"field": "x", "type": "quantitative", "scale": {"domain": [-9.3, 0], "nice": false, "zero": false}, "axis": null}, "y": {"field": "y", "type": "quantitative", "scale": {"domain": [0, 1.6], "nice": false, "zero": false}, "axis": null}}}
   ]}
 ]}
]
}
